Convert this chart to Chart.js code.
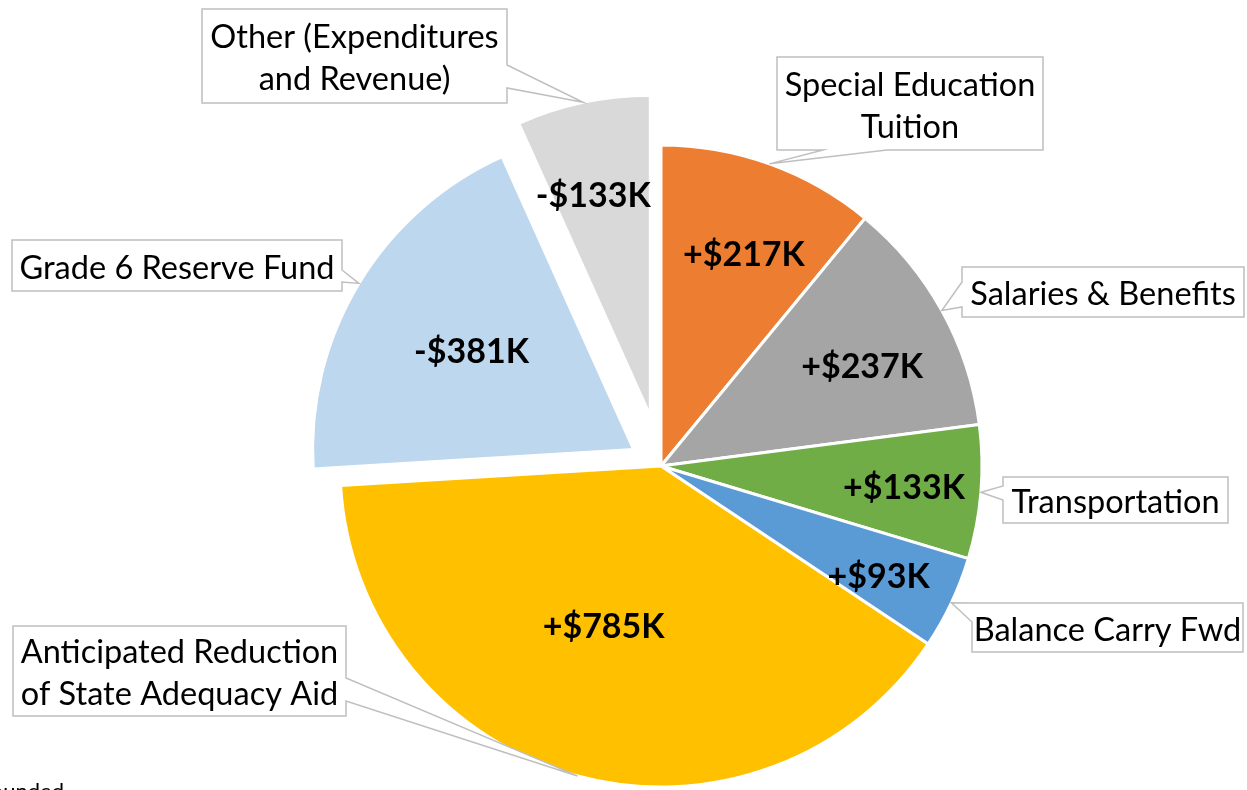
<!DOCTYPE html>
<html>
<head>
<meta charset="utf-8">
<title>Budget changes</title>
<script src="https://cdn.jsdelivr.net/npm/chart.js@4.4.1/dist/chart.umd.min.js"></script>
<style>
  html, body { margin: 0; padding: 0; background: #fff; }
  #wrap { width: 1247px; height: 790px; position: relative; overflow: hidden; }
</style>
</head>
<body>
<div id="wrap"><canvas id="budgetPie"></canvas></div>
<script>
// --- data ---
const categories = [
  "Special Education Tuition",
  "Salaries & Benefits",
  "Transportation",
  "Balance Carry Fwd",
  "Anticipated Reduction of State Adequacy Aid",
  "Grade 6 Reserve Fund",
  "Other (Expenditures and Revenue)",
];
const changes = [217, 237, 133, 93, 785, -381, -133]; // $K
const calloutLines = [
  ["Special Education", "Tuition"],
  ["Salaries & Benefits"],
  ["Transportation"],
  ["Balance Carry Fwd"],
  ["Anticipated Reduction", "of State Adequacy Aid"],
  ["Grade 6 Reserve Fund"],
  ["Other (Expenditures", "and Revenue)"],
];
const footnote = "Rounded";

// --- styles ---
const sliceColors = ["#ED7D31", "#A5A5A5", "#70AD47", "#5B9BD5", "#FFC000", "#BDD7EE", "#D9D9D9"];
const explodePx = [0, 0, 0, 0, 0, 32, 51];
const valueRadius = [0.71, 0.70, 0.76, 0.76, 0.53, 0.59, 0.71];
const valueAngleNudge = [1.6, 2.5, 0.3, 1.6, 4.6, 0, -2.4]; // degrees
// callout boxes relative to the pie centre: x, y, w, h, tail side, tail base range
const calloutBoxes = [
  { x: 116, y: -409, w: 266, h: 93, side: "bottom", b: [46, 110] },
  { x: 301, y: -199, w: 282, h: 50, side: "left", b: [15, 40] },
  { x: 342, y: 11, w: 225, h: 46, side: "left", b: [9, 23] },
  { x: 311, y: 137, w: 271, h: 49, side: "left", b: [0, 19] },
  { x: -648, y: 160, w: 333, h: 90, side: "right", b: [52, 75] },
  { x: -649, y: -226, w: 330, h: 51, side: "right", b: [30, 42] },
  { x: -459, y: -457, w: 305, h: 94, side: "right", b: [56, 79] },
];

const FONT = "Lato, 'Open Sans', sans-serif";

function valueText(v) {
  return (v >= 0 ? "+" : "-") + "$" + Math.abs(v) + "K";
}

// draws the slices, pulling some of them out along their bisector
const explodePlugin = {
  id: "explode",
  beforeDatasetDraw(chart, args) {
    const ctx = chart.ctx;
    args.meta.data.forEach((arc, i) => {
      const d = explodePx[i] || 0;
      const mid = (arc.startAngle + arc.endAngle) / 2;
      ctx.save();
      ctx.translate(Math.cos(mid) * d, Math.sin(mid) * d);
      arc.draw(ctx);
      ctx.restore();
    });
    return false;
  },
};

function calloutPath(ctx, bx, by, w, h, side, b, tip) {
  ctx.beginPath();
  ctx.moveTo(bx, by);
  ctx.lineTo(bx + w, by);
  if (side === "right") {
    ctx.lineTo(bx + w, by + b[0]);
    ctx.lineTo(tip.x, tip.y);
    ctx.lineTo(bx + w, by + b[1]);
  }
  ctx.lineTo(bx + w, by + h);
  if (side === "bottom") {
    ctx.lineTo(bx + b[1], by + h);
    ctx.lineTo(tip.x, tip.y);
    ctx.lineTo(bx + b[0], by + h);
  }
  ctx.lineTo(bx, by + h);
  if (side === "left") {
    ctx.lineTo(bx, by + b[1]);
    ctx.lineTo(tip.x, tip.y);
    ctx.lineTo(bx, by + b[0]);
  }
  ctx.closePath();
}

const calloutPlugin = {
  id: "callouts",
  afterDraw(chart) {
    const ctx = chart.ctx;
    const meta = chart.getDatasetMeta(0);
    ctx.save();
    meta.data.forEach((arc, i) => {
      const mid = (arc.startAngle + arc.endAngle) / 2;
      const d = explodePx[i] || 0;
      const cx = arc.x + Math.cos(mid) * d;
      const cy = arc.y + Math.sin(mid) * d;
      const R = arc.outerRadius;
      const tip = { x: cx + Math.cos(mid) * R, y: cy + Math.sin(mid) * R };
      const box = calloutBoxes[i];
      const bx = arc.x + box.x;
      const by = arc.y + box.y;

      calloutPath(ctx, bx, by, box.w, box.h, box.side, box.b, tip);
      ctx.fillStyle = "#fff";
      ctx.fill();
      ctx.strokeStyle = "#BFBFBF";
      ctx.lineWidth = 1.5;
      ctx.stroke();

      const lines = calloutLines[i];
      const lh = 42;
      ctx.fillStyle = "#000";
      ctx.font = "32.5px " + FONT;
      ctx.textAlign = "center";
      ctx.textBaseline = "middle";
      lines.forEach((t, k) => {
        const ty = by + box.h / 2 + 3 + (k - (lines.length - 1) / 2) * lh;
        ctx.fillText(t, bx + box.w / 2, ty);
      });
    });

    // value labels
    ctx.font = "bold 34px " + FONT;
    ctx.fillStyle = "#000";
    meta.data.forEach((arc, i) => {
      const mid = (arc.startAngle + arc.endAngle) / 2;
      const d = explodePx[i] || 0;
      const cx = arc.x + Math.cos(mid) * d;
      const cy = arc.y + Math.sin(mid) * d;
      const a = mid + valueAngleNudge[i] * Math.PI / 180;
      const r = arc.outerRadius * valueRadius[i];
      ctx.fillText(valueText(changes[i]), cx + Math.cos(a) * r, cy + Math.sin(a) * r + 1);
    });

    ctx.font = "22px " + FONT;
    ctx.textAlign = "right";
    ctx.textBaseline = "alphabetic";
    ctx.fillText(footnote, 64, 799);
    ctx.restore();
  },
};

const ctx = document.getElementById("budgetPie").getContext("2d");
new Chart(ctx, {
  type: "pie",
  data: {
    labels: categories,
    datasets: [{
      label: "Change ($K)",
      data: changes.map(Math.abs),
      backgroundColor: sliceColors,
      borderColor: "#fff",
      borderWidth: 3,
    }],
  },
  options: {
    responsive: true,
    maintainAspectRatio: false,
    animation: false,
    radius: 321,
    layout: { padding: { left: 75, top: 142, right: 0, bottom: 0 } },
    plugins: {
      legend: { display: false },
      tooltip: { enabled: false },
    },
  },
  plugins: [explodePlugin, calloutPlugin],
});
</script>
</body>
</html>
